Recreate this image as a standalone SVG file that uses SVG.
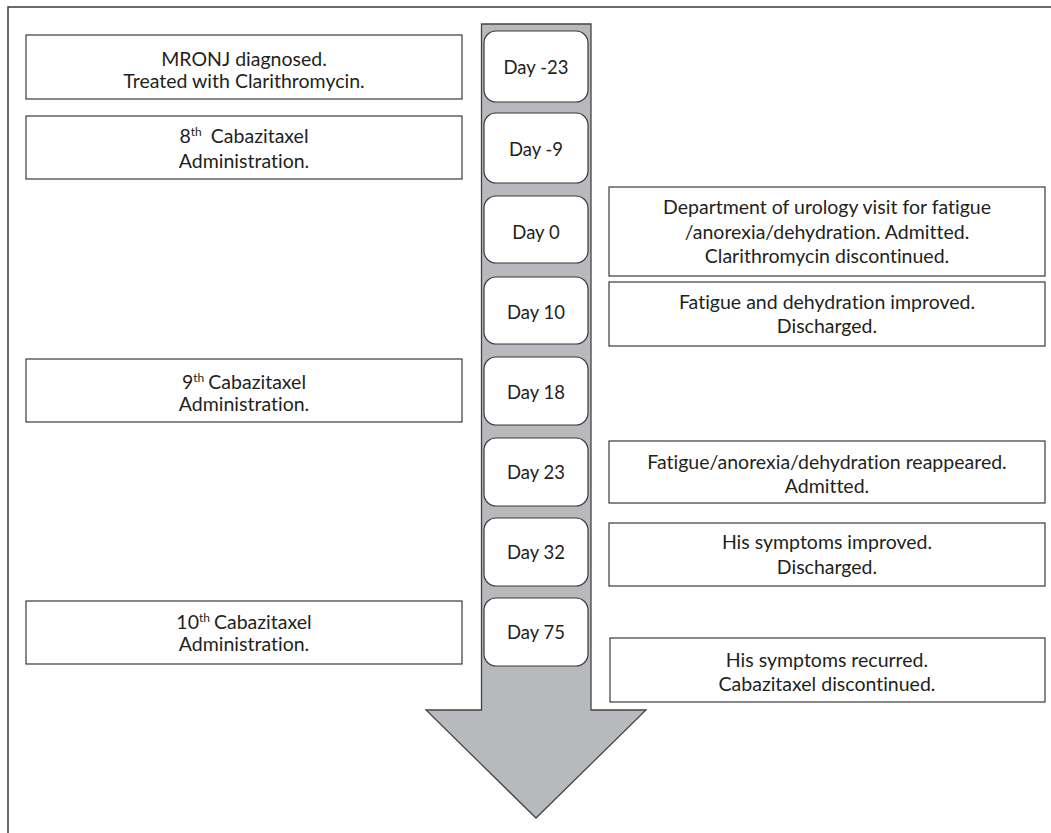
<svg xmlns="http://www.w3.org/2000/svg" width="1051" height="833" viewBox="0 0 1051 833">
<style>
.frame{fill:none;stroke:#3a3a3a;stroke-width:1.5}
.box{fill:#fff;stroke:#3a3a3a;stroke-width:1.2}
.day{fill:#fff;stroke:#3a3a3a;stroke-width:1.2}
.arrow{fill:#b8b9bc;stroke:#444;stroke-width:1.3}
text{font-family:Lato,"Liberation Sans",sans-serif;font-size:19.5px;fill:#231f20;text-anchor:middle;font-variant-ligatures:none}
.d{font-size:18.5px}
.sup{font-size:12px}
</style>
<rect width="1051" height="833" fill="#fff"/>
<path class="frame" d="M8,833 V7 H1051"/>
<g id="connectors">
<path id="timeline-arrow" class="arrow" d="M481.5,24 H591 V710 H646 L536,818 L426,710 H481.5 Z"/>
</g>
<g id="day-m23"><rect class="day" x="484" y="31" width="104" height="71" rx="12"/><text class="d" x="536" y="74">Day -23</text></g>
<g id="day-m9"><rect class="day" x="484" y="113" width="104" height="70" rx="12"/><text class="d" x="536" y="156">Day -9</text></g>
<g id="day-0"><rect class="day" x="484" y="196" width="104" height="67" rx="12"/><text class="d" x="536" y="239">Day 0</text></g>
<g id="day-10"><rect class="day" x="484" y="277" width="104" height="67" rx="12"/><text class="d" x="536" y="319">Day 10</text></g>
<g id="day-18"><rect class="day" x="484" y="357" width="104" height="68" rx="12"/><text class="d" x="536" y="399">Day 18</text></g>
<g id="day-23"><rect class="day" x="484" y="438" width="104" height="68" rx="12"/><text class="d" x="536" y="479">Day 23</text></g>
<g id="day-32"><rect class="day" x="484" y="518" width="104" height="68" rx="12"/><text class="d" x="536" y="559">Day 32</text></g>
<g id="day-75"><rect class="day" x="484" y="598" width="104" height="68" rx="12"/><text class="d" x="536" y="639">Day 75</text></g>

<g id="left-mronj"><rect class="box" x="26" y="35" width="436" height="64"/>
<text x="244" y="66">MRONJ diagnosed.</text><text x="244" y="88">Treated with Clarithromycin.</text></g>
<g id="left-8th"><rect class="box" x="26" y="116" width="436" height="63"/>
<text x="244" y="143">8<tspan class="sup" dy="-7">th</tspan><tspan dy="7" dx="9">Cabazitaxel</tspan></text><text x="244" y="168">Administration.</text></g>
<g id="left-9th"><rect class="box" x="26" y="359" width="436" height="63"/>
<text x="244" y="389">9<tspan class="sup" dy="-7">th</tspan><tspan dy="7" dx="4">Cabazitaxel</tspan></text><text x="244" y="411">Administration.</text></g>
<g id="left-10th"><rect class="box" x="26" y="601" width="436" height="63"/>
<text x="244" y="629">10<tspan class="sup" dy="-7">th</tspan><tspan dy="7" dx="4">Cabazitaxel</tspan></text><text x="244" y="651">Administration.</text></g>

<g id="right-dept"><rect class="box" x="609" y="187" width="436" height="89"/>
<text x="827" y="214">Department of urology visit for fatigue</text><text x="827" y="239">/anorexia/dehydration. Admitted.</text><text x="827" y="263">Clarithromycin discontinued.</text></g>
<g id="right-improved"><rect class="box" x="609" y="282" width="436" height="64"/>
<text x="827" y="309">Fatigue and dehydration improved.</text><text x="827" y="333">Discharged.</text></g>
<g id="right-reappeared"><rect class="box" x="609" y="441" width="436" height="62"/>
<text x="827" y="469">Fatigue/anorexia/dehydration reappeared.</text><text x="827" y="493">Admitted.</text></g>
<g id="right-symptoms-improved"><rect class="box" x="609" y="523" width="436" height="63"/>
<text x="827" y="549">His symptoms improved.</text><text x="827" y="574">Discharged.</text></g>
<g id="right-recurred"><rect class="box" x="610" y="638" width="435" height="64"/>
<text x="827" y="667">His symptoms recurred.</text><text x="827" y="691">Cabazitaxel discontinued.</text></g>
</svg>
